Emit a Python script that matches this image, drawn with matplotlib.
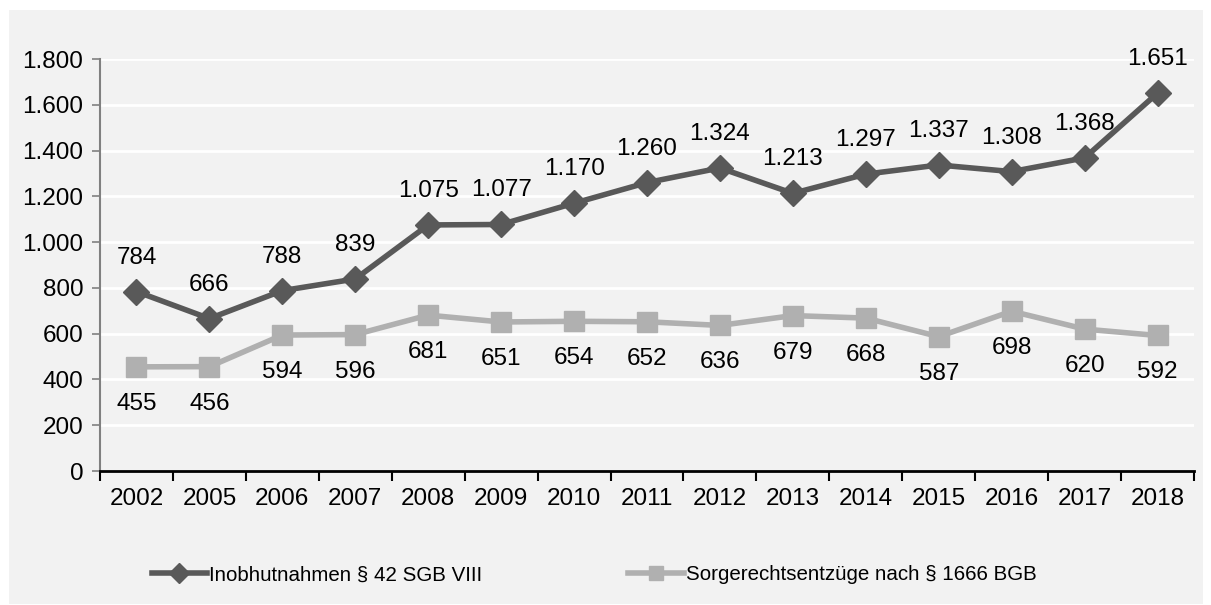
import matplotlib.pyplot as plt
from matplotlib.patches import Rectangle

plt.rcParams['font.family'] = ['Liberation Sans', 'DejaVu Sans']

years = ["2002", "2005", "2006", "2007", "2008", "2009", "2010", "2011",
         "2012", "2013", "2014", "2015", "2016", "2017", "2018"]
inobhut = [784, 666, 788, 839, 1075, 1077, 1170, 1260, 1324, 1213, 1297, 1337, 1308, 1368, 1651]
sorge = [455, 456, 594, 596, 681, 651, 654, 652, 636, 679, 668, 587, 698, 620, 592]
names = ["Inobhutnahmen § 42 SGB VIII", "Sorgerechtsentzüge nach § 1666 BGB"]

dark = "#595959"
light = "#b0b0b0"
bg = "#f2f2f2"

W, H = 1211, 605
fig = plt.figure(figsize=(W / 100, H / 100), dpi=100, facecolor="white")
# grey chart area
fig.patches.append(Rectangle((9 / W, 1 - 604 / H), 1194 / W, 594 / H,
                             transform=fig.transFigure, facecolor=bg,
                             edgecolor="none", zorder=-10))

ax = fig.add_axes([100 / W, (H - 471) / H, 1094 / W, 412 / H])
ax.set_zorder(1)
ax.set_facecolor(bg)

x = list(range(len(years)))
ax.plot(x, inobhut, color=dark, lw=4, marker="D", ms=13, label=names[0], zorder=3)
ax.plot(x, sorge, color=light, lw=4, marker="s", ms=14, label=names[1], zorder=3)

def fmt(v):
    return f"{v:,}".replace(",", ".")

fs = 17.5
for i, v in enumerate(inobhut):
    ax.annotate(fmt(v), (i, v), xytext=(0, 34), textcoords="offset pixels",
                ha="center", va="center", fontsize=fs, color="black")
for i, v in enumerate(sorge):
    ax.annotate(fmt(v), (i, v), xytext=(0, -37), textcoords="offset pixels",
                ha="center", va="center", fontsize=fs, color="black")

ax.set_xlim(-0.5, len(years) - 0.5)
ax.set_ylim(0, 1800)
ax.set_yticks(range(0, 1801, 200))
ax.set_yticklabels([fmt(v) for v in range(0, 1801, 200)])
ax.set_xticks(x)
ax.set_xticklabels(years)
ax.set_xticks([i - 0.5 for i in range(len(years) + 1)], minor=True)
ax.tick_params(axis="x", which="major", length=0, pad=12, labelsize=fs)
ax.tick_params(axis="x", which="minor", length=7, width=1.5, color="black")
ax.tick_params(axis="y", length=6, width=1.2, color="#808080", labelsize=fs, pad=6)

ax.grid(axis="y", color="white", lw=2)
ax.set_axisbelow(True)
for s in ["top", "right"]:
    ax.spines[s].set_visible(False)
ax.spines["left"].set_color("#808080")
ax.spines["left"].set_linewidth(1.5)
ax.spines["bottom"].set_color("black")
ax.spines["bottom"].set_linewidth(2)
ax.spines["bottom"].set_zorder(4)

leg = fig.legend(loc="center", bbox_to_anchor=(594 / W, 1 - 575 / H), ncol=2,
                 frameon=False, fontsize=14.8, handlelength=2.7, handletextpad=0.1,
                 columnspacing=7.1, markerscale=0.75)

fig.savefig("out.png", dpi=100, facecolor="white")
